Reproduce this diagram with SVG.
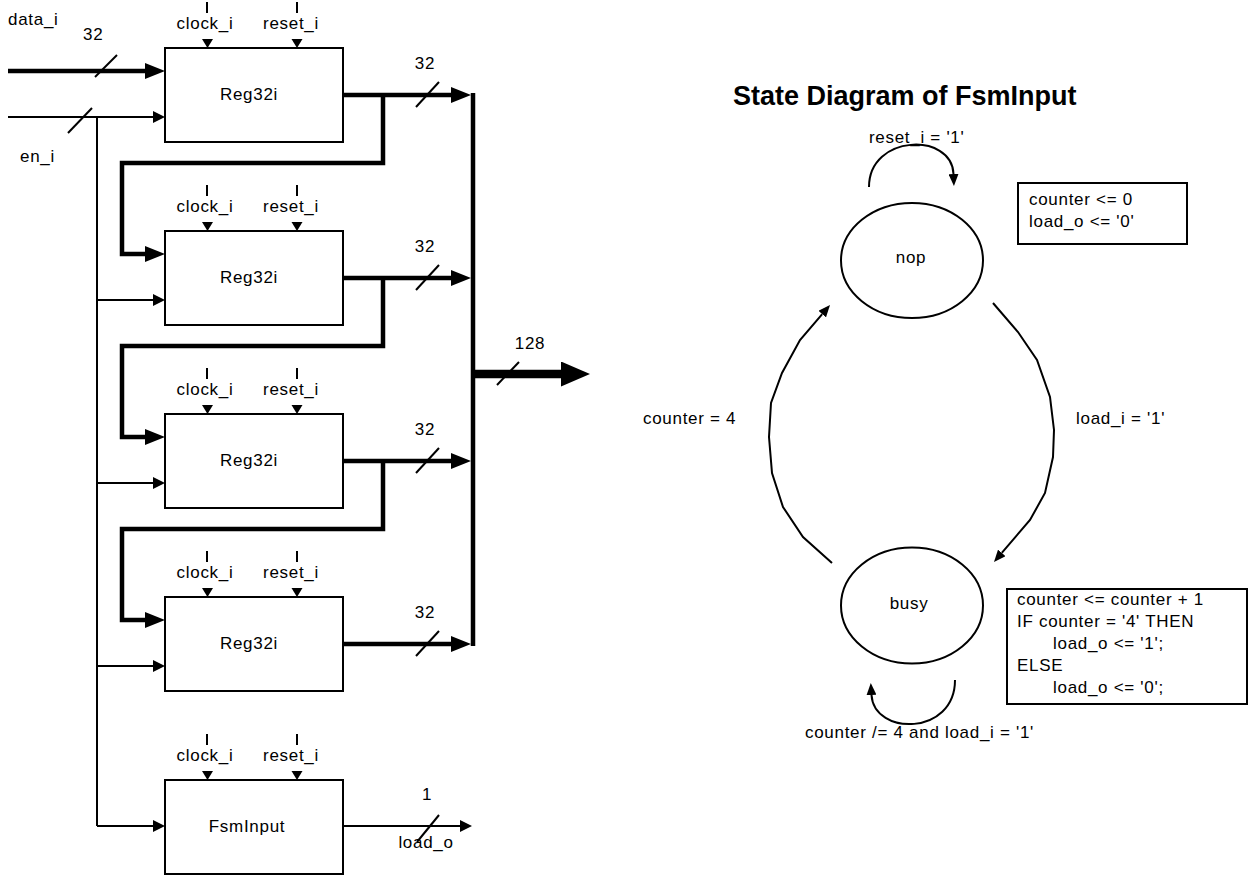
<svg xmlns="http://www.w3.org/2000/svg" width="1253" height="876" viewBox="0 0 1253 876">
  <style>
    text { font-family: "Liberation Sans", Arial, sans-serif; font-size: 17px; letter-spacing: 0.7px; fill: #000; }
    .mid { text-anchor: middle; }
    .title { font-size: 27px; font-weight: bold; letter-spacing: 0; }
    .box { fill: #fff; stroke: #000; stroke-width: 2; }
    .state { fill: #fff; stroke: #000; stroke-width: 2; }
    .thin { fill: none; stroke: #000; stroke-width: 2; }
    .thick { fill: none; stroke: #000; stroke-width: 4.5; }
    .wide { fill: none; stroke: #000; stroke-width: 8.5; }
    .tick { stroke: #000; stroke-width: 2; }
    .pin { fill: #000; }
  </style>
  <defs>
    <marker id="aThin" markerUnits="userSpaceOnUse" markerWidth="12" markerHeight="12" refX="0" refY="6" orient="auto" viewBox="0 0 12 12">
      <path d="M0,0 L12,6 L0,12 z" fill="#000"/>
    </marker>
    <marker id="aThick" markerUnits="userSpaceOnUse" markerWidth="20" markerHeight="16" refX="0" refY="8" orient="auto" viewBox="0 0 20 16">
      <path d="M0,0 L20,8 L0,16 z" fill="#000"/>
    </marker>
    <marker id="aBus" markerUnits="userSpaceOnUse" markerWidth="29" markerHeight="25" refX="0" refY="12.5" orient="auto" viewBox="0 0 29 25">
      <path d="M0,0 L29,12.5 L0,25 z" fill="#000"/>
    </marker>
    <marker id="aState" markerUnits="userSpaceOnUse" markerWidth="12" markerHeight="10" refX="0" refY="5" orient="auto" viewBox="0 0 12 10">
      <path d="M0,0 L12,5 L0,10 z" fill="#000"/>
    </marker>
  </defs>

  <!-- wiring of the register chain -->
  <g id="connectors">
    <!-- data_i input bus -->
    <path class="thick" d="M8 71 H145" marker-end="url(#aThick)"/>
    <line class="thin" x1="95" y1="77" x2="117" y2="55"/>
    <!-- en_i input and its fan-out -->
    <path class="thin" d="M8 117 H153" marker-end="url(#aThin)"/>
    <line class="thin" x1="68" y1="133" x2="92" y2="108"/>
    <path class="thin" d="M97 117 V826"/>
    <path class="thin" d="M97 300 H153" marker-end="url(#aThin)"/>
    <path class="thin" d="M97 483 H153" marker-end="url(#aThin)"/>
    <path class="thin" d="M97 666 H153" marker-end="url(#aThin)"/>
    <path class="thin" d="M97 826 H153" marker-end="url(#aThin)"/>
    <!-- register outputs to the collecting bus -->
    <path class="thick" d="M343 95 H451" marker-end="url(#aThick)"/>
    <path class="thick" d="M343 278 H451" marker-end="url(#aThick)"/>
    <path class="thick" d="M343 461 H451" marker-end="url(#aThick)"/>
    <path class="thick" d="M343 644 H451" marker-end="url(#aThick)"/>
    <line class="thin" x1="416" y1="107" x2="439" y2="82"/>
    <line class="thin" x1="416" y1="290" x2="439" y2="265"/>
    <line class="thin" x1="416" y1="473" x2="439" y2="448"/>
    <line class="thin" x1="416" y1="656" x2="439" y2="631"/>
    <!-- shift feedback from each register into the next one -->
    <path class="thick" d="M383 95 V163 H122 V254 H145" marker-end="url(#aThick)"/>
    <path class="thick" d="M383 278 V346 H122 V437 H145" marker-end="url(#aThick)"/>
    <path class="thick" d="M383 461 V529 H122 V620 H145" marker-end="url(#aThick)"/>
    <!-- 128 bit collecting bus -->
    <path class="thick" d="M473 93 V646"/>
    <path class="wide" d="M473 374 H561" marker-end="url(#aBus)"/>
    <line class="thin" x1="497" y1="385" x2="519" y2="362"/>
    <!-- load_o output -->
    <path class="thin" d="M343 826 H460" marker-end="url(#aThin)"/>
    <line class="thin" x1="417" y1="842" x2="439" y2="815"/>
  </g>

  <!-- bus labels -->
  <g id="labels">
    <text x="8" y="25">data_i</text>
    <text x="83" y="40">32</text>
    <text x="20" y="162">en_i</text>
    <text class="mid" x="425" y="69">32</text>
    <text class="mid" x="425" y="252">32</text>
    <text class="mid" x="425" y="435">32</text>
    <text class="mid" x="425" y="618">32</text>
    <text class="mid" x="530" y="349">128</text>
    <text class="mid" x="427" y="800">1</text>
    <text class="mid" x="426" y="848">load_o</text>
  </g>

  <g id="reg1">
    <line class="tick" x1="207" y1="2" x2="207" y2="13"/>
    <line class="tick" x1="297" y1="2" x2="297" y2="13"/>
    <text class="mid" x="205" y="29">clock_i</text>
    <text class="mid" x="291" y="29">reset_i</text>
    <path class="pin" d="M202 39 H213 L207.5 48 z"/>
    <path class="pin" d="M291.5 39 H302.5 L297 48 z"/>
    <rect class="box" x="165" y="48" width="178" height="94"/>
    <text class="mid" x="249" y="100">Reg32i</text>
  </g>

  <g id="reg2">
    <line class="tick" x1="207" y1="185" x2="207" y2="196"/>
    <line class="tick" x1="297" y1="185" x2="297" y2="196"/>
    <text class="mid" x="205" y="212">clock_i</text>
    <text class="mid" x="291" y="212">reset_i</text>
    <path class="pin" d="M202 222 H213 L207.5 231 z"/>
    <path class="pin" d="M291.5 222 H302.5 L297 231 z"/>
    <rect class="box" x="165" y="231" width="178" height="94"/>
    <text class="mid" x="249" y="283">Reg32i</text>
  </g>

  <g id="reg3">
    <line class="tick" x1="207" y1="368" x2="207" y2="379"/>
    <line class="tick" x1="297" y1="368" x2="297" y2="379"/>
    <text class="mid" x="205" y="395">clock_i</text>
    <text class="mid" x="291" y="395">reset_i</text>
    <path class="pin" d="M202 405 H213 L207.5 414 z"/>
    <path class="pin" d="M291.5 405 H302.5 L297 414 z"/>
    <rect class="box" x="165" y="414" width="178" height="94"/>
    <text class="mid" x="249" y="466">Reg32i</text>
  </g>

  <g id="reg4">
    <line class="tick" x1="207" y1="551" x2="207" y2="562"/>
    <line class="tick" x1="297" y1="551" x2="297" y2="562"/>
    <text class="mid" x="205" y="578">clock_i</text>
    <text class="mid" x="291" y="578">reset_i</text>
    <path class="pin" d="M202 588 H213 L207.5 597 z"/>
    <path class="pin" d="M291.5 588 H302.5 L297 597 z"/>
    <rect class="box" x="165" y="597" width="178" height="94"/>
    <text class="mid" x="249" y="649">Reg32i</text>
  </g>

  <g id="fsm">
    <line class="tick" x1="207" y1="734" x2="207" y2="745"/>
    <line class="tick" x1="297" y1="734" x2="297" y2="745"/>
    <text class="mid" x="205" y="761">clock_i</text>
    <text class="mid" x="291" y="761">reset_i</text>
    <path class="pin" d="M202 771 H213 L207.5 780 z"/>
    <path class="pin" d="M291.5 771 H302.5 L297 780 z"/>
    <rect class="box" x="165" y="780" width="178" height="94"/>
    <text class="mid" x="247" y="832">FsmInput</text>
  </g>

  <!-- state machine of FsmInput -->
  <text class="title" x="733" y="105">State Diagram of FsmInput</text>

  <g id="transitions">
    <path class="thin" d="M869 187 C869 134, 952 132, 953.5 174" marker-end="url(#aState)"/>
    <text x="869" y="143">reset_i = '1'</text>
    <polyline class="thin" points="993,303 1018,332 1037,360 1050,397 1054,430 1053,457 1045,493 1030,520 1001.8,552.9" marker-end="url(#aState)"/>
    <text x="1076" y="424">load_i = '1'</text>
    <polyline class="thin" points="832,563 803,537 783,507 772,473 769,437 771,403 782,373 800,340 822.2,314.1" marker-end="url(#aState)"/>
    <text x="643" y="424">counter = 4</text>
    <path class="thin" d="M955 680 C955 736, 874 736, 871.5 695" marker-end="url(#aState)"/>
    <text x="805" y="738">counter /= 4 and load_i = '1'</text>
  </g>

  <g id="state-nop">
    <ellipse class="state" cx="912" cy="260.5" rx="71" ry="57.5"/>
    <text class="mid" x="911" y="263">nop</text>
  </g>

  <g id="action-nop">
    <rect class="box" x="1018" y="183" width="169" height="61"/>
    <text x="1029" y="205">counter &lt;= 0</text>
    <text x="1029" y="227">load_o &lt;= '0'</text>
  </g>

  <g id="state-busy">
    <ellipse class="state" cx="912" cy="605.5" rx="71" ry="58"/>
    <text class="mid" x="909" y="609">busy</text>
  </g>

  <g id="action-busy">
    <rect class="box" x="1007" y="589" width="240" height="115"/>
    <text x="1017" y="605">counter &lt;= counter + 1</text>
    <text x="1017" y="627">IF counter = '4' THEN</text>
    <text x="1053" y="649">load_o &lt;= '1';</text>
    <text x="1017" y="671">ELSE</text>
    <text x="1053" y="693">load_o &lt;= '0';</text>
  </g>
</svg>
